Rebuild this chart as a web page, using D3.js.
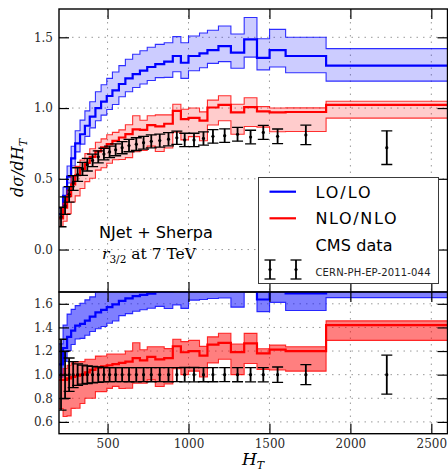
<!DOCTYPE html>
<html><head><meta charset="utf-8">
<script src="https://cdn.jsdelivr.net/npm/d3@7"></script>
<style>body{margin:0;background:#fff;} svg{display:block;}</style>
</head><body><svg id="c" width="448" height="472"></svg>
<script>
// ---------- data ----------
const binEdges = [200,225,250,275,300,330,360,390,425,460,495,530,570,610,655,700,745,795,850,903,953,1000,1068,1117,1185,1262,1344,1423,1501,1600,1850,2600];
const loCentral = [0.25,0.38,0.515,0.645,0.75,0.815,0.875,0.94,1.00,1.045,1.085,1.125,1.17,1.21,1.24,1.265,1.29,1.31,1.328,1.368,1.32,1.368,1.387,1.41,1.438,1.391,1.486,1.355,1.41,1.368,1.30];
const loUpper   = [0.29,0.44,0.59,0.73,0.84,0.915,0.98,1.045,1.115,1.165,1.21,1.255,1.30,1.345,1.38,1.405,1.43,1.45,1.462,1.505,1.462,1.509,1.53,1.55,1.58,1.523,1.64,1.49,1.556,1.50,1.42];
const loLower   = [0.225,0.345,0.47,0.59,0.69,0.745,0.80,0.86,0.91,0.95,0.99,1.025,1.08,1.115,1.145,1.17,1.195,1.215,1.217,1.257,1.21,1.264,1.285,1.316,1.328,1.281,1.36,1.27,1.29,1.25,1.19];
const nloCentral = [0.22,0.296,0.378,0.461,0.525,0.57,0.612,0.655,0.694,0.722,0.745,0.768,0.792,0.816,0.849,0.846,0.88,0.87,0.889,0.98,0.922,0.93,0.911,1.004,1.022,0.97,1.006,0.977,0.97,0.972,1.022];
const nloUpper   = [0.23,0.326,0.421,0.517,0.588,0.633,0.678,0.712,0.758,0.782,0.811,0.828,0.846,0.882,0.946,0.914,0.946,0.952,0.952,1.027,0.992,1.0,0.973,1.056,1.087,1.027,1.073,1.01,1.0,1.001,1.048];
const nloLower   = [0.164,0.20,0.254,0.336,0.379,0.431,0.48,0.504,0.561,0.578,0.61,0.635,0.636,0.65,0.691,0.70,0.731,0.693,0.718,0.83,0.775,0.798,0.769,0.88,0.91,0.815,0.87,0.865,0.832,0.834,0.929];
const dataValue = [0.23,0.31,0.39,0.47,0.53,0.57,0.60,0.63,0.655,0.675,0.69,0.705,0.72,0.735,0.745,0.755,0.765,0.77,0.78,0.79,0.775,0.775,0.785,0.80,0.805,0.815,0.795,0.828,0.80,0.81,0.72];
const dataErr   = [0.069,0.062,0.055,0.052,0.048,0.046,0.045,0.044,0.043,0.041,0.041,0.042,0.043,0.044,0.045,0.045,0.046,0.046,0.047,0.047,0.047,0.047,0.047,0.048,0.048,0.049,0.048,0.05,0.052,0.069,0.119];
const xTicks = [500,1000,1500,2000,2500];
const yTicksTop = [0.0,0.5,1.0,1.5];
const yTicksBottom = [0.6,0.8,1.0,1.2,1.4,1.6];
const legendLabels = ["LO/LO","NLO/NLO","CMS data","CERN-PH-EP-2011-044"];
const seriesColors = ["#0000ff","#ff0000"];

// ---------- layout ----------
const svg = d3.select("#c");
const x = d3.scaleLinear().domain([200,2600]).range([59,447.5]);
const yTop = d3.scaleLinear().domain([-0.3,1.7]).range([292,9]);
const yBot = d3.scaleLinear().domain([0.5,1.7]).range([433.7,292]);
const n = dataValue.length;
const centers = d3.range(n).map(i => (binEdges[i]+binEdges[i+1])/2);
const serif = "DejaVu Serif";
const sans = "DejaVu Sans";

function stepPts(vals){ const p = vals.map((v,i)=>[binEdges[i],v]); p.push([binEdges[n],vals[n-1]]); return p; }
function bandPts(lo,hi){ const p = lo.map((v,i)=>[binEdges[i],v,hi[i]]); p.push([binEdges[n],lo[n-1],hi[n-1]]); return p; }

function panel(y, yTicks, fmt, ratio, id, fillOp){
  const [y0,y1] = y.range();
  const g = svg.append("g");
  svg.append("clipPath").attr("id",id).append("rect")
     .attr("x",x.range()[0]).attr("y",y1).attr("width",x.range()[1]-x.range()[0]).attr("height",y0-y1);
  // grid
  g.selectAll(".gx").data(xTicks).join("line")
    .attr("x1",d=>x(d)).attr("x2",d=>x(d)).attr("y1",y1).attr("y2",y0)
    .attr("stroke","#9a9a9a").attr("stroke-width",1).attr("stroke-dasharray","1.5,5");
  g.selectAll(".gy").data(yTicks).join("line")
    .attr("y1",d=>y(d)).attr("y2",d=>y(d)).attr("x1",x.range()[0]).attr("x2",x.range()[1])
    .attr("stroke","#9a9a9a").attr("stroke-width",1).attr("stroke-dasharray","1.5,5");
  const c = g.append("g").attr("clip-path",`url(#${id})`);
  const div = (arr)=> ratio ? arr.map((v,i)=>v/dataValue[i]) : arr;
  const area = d3.area().x(d=>x(d[0])).y0(d=>y(d[1])).y1(d=>y(d[2])).curve(d3.curveStepAfter);
  const line = d3.line().x(d=>x(d[0])).y(d=>y(d[1])).curve(d3.curveStepAfter);
  const series = [[loLower,loCentral,loUpper],[nloLower,nloCentral,nloUpper]];
  series.forEach((s,k)=>{
    const col = seriesColors[k];
    const lo = div(s[0]), ce = div(s[1]), hi = div(s[2]);
    c.append("path").attr("d",area(bandPts(lo,hi))).attr("fill",col).attr("fill-opacity",fillOp);
    c.append("path").attr("d",line(stepPts(lo))).attr("fill","none").attr("stroke",col).attr("stroke-width",1.1).attr("stroke-opacity",0.8);
    c.append("path").attr("d",line(stepPts(hi))).attr("fill","none").attr("stroke",col).attr("stroke-width",1.1).attr("stroke-opacity",0.8);
    c.append("path").attr("d",line(stepPts(ce))).attr("fill","none").attr("stroke",col).attr("stroke-width",2.2);
  });
  // data
  const dv = ratio ? dataValue.map(()=>1) : dataValue;
  const de = ratio ? dataErr.map((e,i)=>e/dataValue[i]) : dataErr;
  const eb = c.append("g");
  d3.range(n).forEach(i=>{
    const cx = x(centers[i]);
    const yt = y(dv[i]+de[i]), yb = y(dv[i]-de[i]);
    eb.append("line").attr("x1",cx).attr("x2",cx).attr("y1",yt).attr("y2",yb).attr("stroke","#000").attr("stroke-width",1.8);
    eb.append("line").attr("x1",cx-5.5).attr("x2",cx+5.5).attr("y1",yt).attr("y2",yt).attr("stroke","#000").attr("stroke-width",1.3);
    eb.append("line").attr("x1",cx-5.5).attr("x2",cx+5.5).attr("y1",yb).attr("y2",yb).attr("stroke","#000").attr("stroke-width",1.3);
    eb.append("circle").attr("cx",cx).attr("cy",y(dv[i])).attr("r",1.6).attr("fill","#000");
  });
  // axes (inward ticks)
  const tl = 10;
  const ax = (gen)=>gen.tickSizeOuter(0);
  const styleAxis = (sel)=>{ sel.select(".domain").remove(); sel.selectAll(".tick line").attr("stroke","#000").attr("stroke-width",1.2);
      sel.selectAll("text").attr("font-family",serif).attr("font-size",12).attr("fill","#2a2a2a"); };
  svg.append("g").attr("transform",`translate(0,${y0})`).call(ax(d3.axisBottom(x).tickValues(xTicks).tickSizeInner(-tl).tickPadding(6).tickFormat(ratio?d3.format("d"):()=>""))).call(styleAxis);
  svg.append("g").attr("transform",`translate(0,${y1})`).call(ax(d3.axisTop(x).tickValues(xTicks).tickSizeInner(-tl).tickFormat(()=>""))).call(styleAxis);
  svg.append("g").attr("transform",`translate(${x.range()[0]},0)`).call(ax(d3.axisLeft(y).tickValues(yTicks).tickSizeInner(-tl).tickPadding(6).tickFormat(fmt))).call(styleAxis);
  svg.append("g").attr("transform",`translate(${x.range()[1]},0)`).call(ax(d3.axisRight(y).tickValues(yTicks).tickSizeInner(-tl).tickFormat(()=>""))).call(styleAxis);
  // frame
  svg.append("rect").attr("x",x.range()[0]).attr("y",y1).attr("width",x.range()[1]-x.range()[0]).attr("height",y0-y1)
     .attr("fill","none").attr("stroke","#000").attr("stroke-width",1.4);
}

panel(yTop, yTicksTop, d3.format(".1f"), false, "clipTop", 0.2);
panel(yBot, yTicksBottom, d3.format(".1f"), true, "clipBot", 0.5);

// axis labels
const yl = svg.append("text").attr("transform","translate(23,168) rotate(-90)").attr("text-anchor","middle")
  .attr("font-family",serif).attr("font-style","italic").attr("font-size",16).attr("fill","#000");
yl.append("tspan").text("dσ/dH");
yl.append("tspan").attr("font-size",11).attr("dy",4).text("T");
const xl = svg.append("text").attr("x",253).attr("y",465).attr("text-anchor","middle")
  .attr("font-family",serif).attr("font-style","italic").attr("font-size",17).attr("fill","#000");
xl.append("tspan").text("H");
xl.append("tspan").attr("font-size",11).attr("dy",4).text("T");

// annotation
svg.append("text").attr("x",99).attr("y",237.5).attr("font-family",sans).attr("font-size",16).attr("fill","#000")
  .attr("textLength",114).attr("lengthAdjust","spacingAndGlyphs").text("NJet + Sherpa");
const ann = svg.append("text").attr("x",102).attr("y",259).attr("font-family",serif).attr("font-size",15.5).attr("fill","#000");
ann.append("tspan").attr("font-style","italic").text("r");
ann.append("tspan").attr("font-size",10.5).attr("dy",3.5).text("3/2");
ann.append("tspan").attr("dy",-3.5).text(" at 7 TeV");

// legend
const lg = svg.append("g");
lg.append("rect").attr("x",258.5).attr("y",177.5).attr("width",180).attr("height",106)
  .attr("fill","#fff").attr("stroke","#3a3a3a").attr("stroke-width",1);
[0,1].forEach(k=>{
  const yy = 191.7 + k*26.6;
  lg.append("line").attr("x1",269.5).attr("x2",296).attr("y1",yy).attr("y2",yy).attr("stroke",seriesColors[k]).attr("stroke-width",2.2);
});
lg.append("text").attr("x",315.5).attr("y",197.5).attr("font-family",sans).attr("font-size",16).attr("textLength",55).attr("lengthAdjust","spacing").text(legendLabels[0]);
lg.append("text").attr("x",315.5).attr("y",224).attr("font-family",sans).attr("font-size",16).attr("textLength",81).attr("lengthAdjust","spacing").text(legendLabels[1]);
lg.append("text").attr("x",315.5).attr("y",250.5).attr("font-family",sans).attr("font-size",16).attr("textLength",77).attr("lengthAdjust","spacing").text(legendLabels[2]);
[270,296].forEach(cx=>{
  lg.append("line").attr("x1",cx).attr("x2",cx).attr("y1",260).attr("y2",279).attr("stroke","#000").attr("stroke-width",1.8);
  lg.append("line").attr("x1",cx-5.5).attr("x2",cx+5.5).attr("y1",260).attr("y2",260).attr("stroke","#000").attr("stroke-width",1.3);
  lg.append("line").attr("x1",cx-5.5).attr("x2",cx+5.5).attr("y1",279).attr("y2",279).attr("stroke","#000").attr("stroke-width",1.3);
  lg.append("circle").attr("cx",cx).attr("cy",269.5).attr("r",1.6).attr("fill","#000");
});
lg.append("text").attr("x",315.5).attr("y",276).attr("font-family",sans).attr("font-size",10).attr("textLength",115).attr("lengthAdjust","spacing").attr("fill","#222").text(legendLabels[3]);
</script></body></html>
